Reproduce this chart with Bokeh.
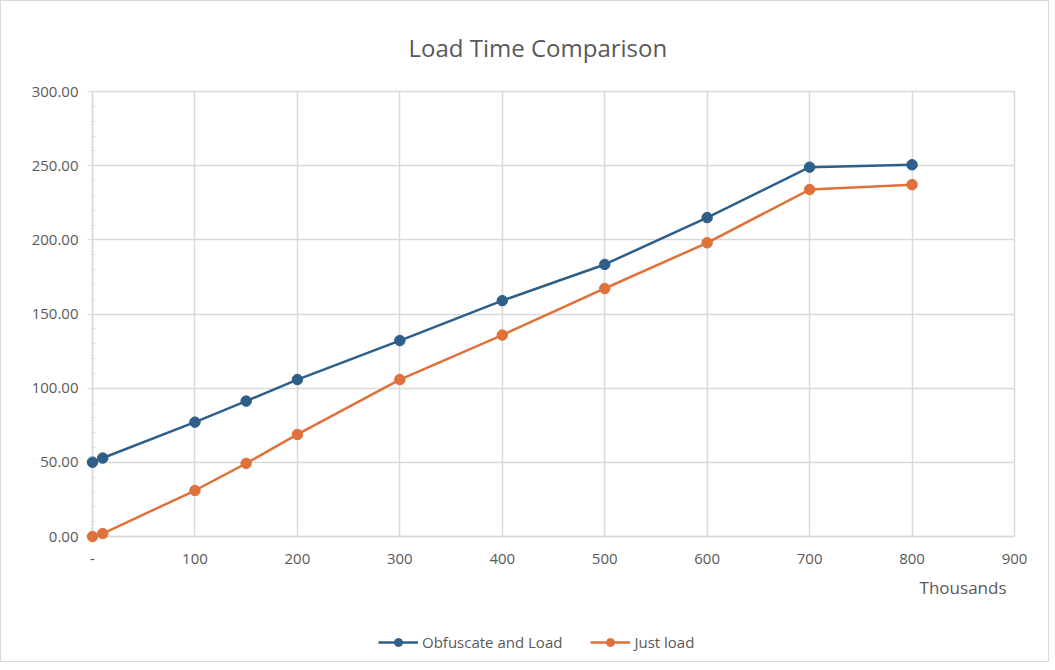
from bokeh.plotting import figure
from bokeh.layouts import column
from bokeh.models import (Range1d, FixedTicker, NumeralTickFormatter, Legend, LegendItem,
                          Label, ColumnDataSource)
from bokeh.embed import file_html
from bokeh.resources import INLINE

# Data (x in thousands)
x_vals = [0, 10, 100, 150, 200, 300, 400, 500, 600, 700, 800]
obfuscate_and_load = [50.1, 52.9, 77.1, 91.3, 105.8, 132.1, 159.0, 183.4, 215.0, 249.0, 250.6]
just_load = [0.0, 2.0, 31.0, 49.3, 68.8, 105.8, 135.8, 167.2, 198.0, 233.9, 237.2]
x_ticks = [0, 100, 200, 300, 400, 500, 600, 700, 800, 900]
y_ticks = [0, 50, 100, 150, 200, 250, 300]
series_names = ["Obfuscate and Load", "Just load"]

FONT = "Open Sans"
TXT = "#595959"
GRID = "#d9d9d9"
BLUE = "#2e5f8a"
ORANGE = "#e1713a"
W = 1047

p = figure(width=W, height=570, output_backend="svg", toolbar_location=None,
           x_range=Range1d(0, 900), y_range=Range1d(0, 300),
           min_border_left=91, min_border_right=34, min_border_top=89, min_border_bottom=35)

p.title.text = "Load Time Comparison"
p.title.align = "left"
p.title.offset = 316
p.title.text_font = FONT
p.title.text_font_size = "24px"
p.title.text_font_style = "normal"
p.title.text_color = TXT
p.title.standoff = 55

p.outline_line_color = GRID
p.outline_line_width = 1.5

# grids
p.xgrid.ticker = FixedTicker(ticks=x_ticks)
p.ygrid.ticker = FixedTicker(ticks=y_ticks)
for g in (p.xgrid, p.ygrid):
    g.grid_line_color = GRID
    g.grid_line_width = 1.5

# x axis
xa = p.xaxis[0]
xa.ticker = FixedTicker(ticks=x_ticks)
xa.major_label_overrides = {0: "-"}
xa.axis_line_color = GRID
xa.axis_line_width = 1.5
xa.major_tick_line_color = None
xa.minor_tick_line_color = None
xa.major_label_text_font = FONT
xa.major_label_text_font_size = "15px"
xa.major_label_text_color = TXT
xa.major_label_standoff = 11

# y axis
ya = p.yaxis[0]
ya.ticker = FixedTicker(ticks=y_ticks, minor_ticks=list(range(0, 301, 10)))
ya.formatter = NumeralTickFormatter(format="0.00")
ya.axis_line_color = GRID
ya.axis_line_width = 1.5
ya.major_tick_line_color = GRID
ya.major_tick_out = 5
ya.major_tick_in = 0
ya.minor_tick_line_color = GRID
ya.minor_tick_in = 3
ya.minor_tick_out = 0
ya.major_label_text_font = FONT
ya.major_label_text_font_size = "15px"
ya.major_label_text_color = TXT
ya.major_label_standoff = 9

src = ColumnDataSource(dict(x=x_vals, a=obfuscate_and_load, b=just_load))

p.line("x", "a", source=src, line_color=BLUE, line_width=2.5, level="overlay")
p.scatter("x", "a", source=src, size=10.5, fill_color=BLUE, line_color=BLUE, level="overlay")
p.line("x", "b", source=src, line_color=ORANGE, line_width=2.5, level="overlay")
p.scatter("x", "b", source=src, size=10.5, fill_color=ORANGE, line_color=ORANGE, level="overlay")

# footer figure: unit label + legend (its series sit outside its visible y range)
f = figure(width=W, height=90, output_backend="svg", toolbar_location=None,
           x_range=Range1d(0, 900), y_range=Range1d(-1000, -999),
           x_axis_location=None, y_axis_location=None,
           min_border_left=91, min_border_right=34, min_border_top=0, min_border_bottom=0)
f.outline_line_color = None
f.xgrid.visible = False
f.ygrid.visible = False

fl1 = f.line("x", "a", source=src, line_color=BLUE, line_width=2.5)
fc1 = f.scatter("x", "a", source=src, size=10.5, fill_color=BLUE, line_color=BLUE)
fl2 = f.line("x", "b", source=src, line_color=ORANGE, line_width=2.5)
fc2 = f.scatter("x", "b", source=src, size=10.5, fill_color=ORANGE, line_color=ORANGE)

f.add_layout(Label(x=900, y=74, y_units="screen", text="Thousands", text_align="right",
                   x_offset=-8, text_font=FONT, text_font_size="17px", text_color=TXT,
                   text_baseline="middle"))

legend = Legend(items=[LegendItem(label=series_names[0], renderers=[fl1, fc1]),
                       LegendItem(label=series_names[1], renderers=[fl2, fc2])],
                location=(286, 9), orientation="horizontal",
                label_text_font=FONT, label_text_font_size="15px", label_text_color=TXT,
                glyph_width=40, glyph_height=20, label_standoff=4, spacing=28,
                padding=0, margin=0, border_line_color=None, background_fill_alpha=0)
f.add_layout(legend, "center")

layout = column(p, f, spacing=0)
layout.styles = {"border": "1px solid #d9d9d9"}

open("out.html", "w").write(file_html(layout, INLINE))
